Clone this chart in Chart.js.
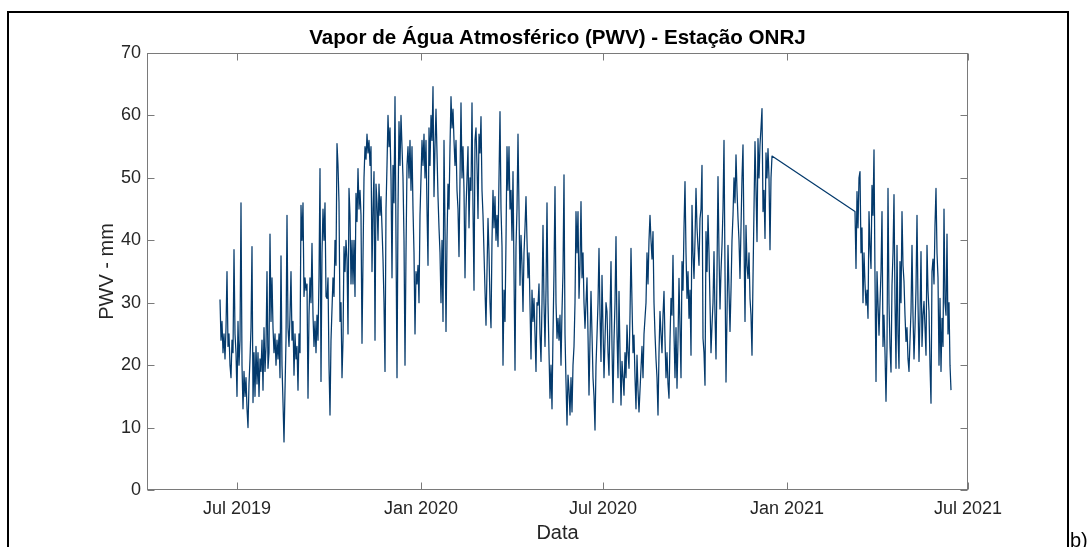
<!DOCTYPE html>
<html>
<head>
<meta charset="utf-8">
<script src="https://cdn.jsdelivr.net/npm/chart.js@4.4.0/dist/chart.umd.min.js"></script>
<style>
  html, body { margin: 0; padding: 0; background: #fff; }
  #wrap { position: relative; width: 1092px; height: 547px; overflow: hidden; }
  #frame { position: absolute; left: 7px; top: 11px; width: 1062px; height: 600px;
           border: 2px solid #000; box-sizing: border-box; pointer-events: none; }
  #panel { position: absolute; left: 1070px; top: 529px; font: 20px Arial, "Liberation Sans", sans-serif; color: #000; }
</style>
</head>
<body>
<div id="wrap">
  <canvas id="pwv-chart"></canvas>
  <div id="frame"></div>
  <div id="panel">b)</div>
</div>
<script>
// x axis in days, day 0 = 1 Jul 2019
const tickDays = [0, 184, 366, 550, 731];
const tickLabels = ['Jul 2019', 'Jan 2020', 'Jul 2020', 'Jan 2021', 'Jul 2021'];

// daily PWV (mm)
const start2019 = '2019-06-14';
const pwv2019 = [
  30.5, 24, 27, 22, 25, 21, 26, 35, 23, 25,
  20, 18, 24, 22, 38.5, 25, 22, 15, 27, 20,
  24, 46, 20, 13, 19, 15, 18, 13, 10, 17,
  21, 26, 39, 14, 22, 15, 23, 17, 22, 15,
  21, 19, 24, 16, 26, 19, 23, 35, 19.5, 22,
  41, 27, 34, 26, 22, 25, 20, 24, 21, 25,
  18, 37.5, 20, 14, 7.7, 16, 24, 44, 26, 23,
  28, 35, 24, 27, 18.4, 25, 21, 23, 16, 25,
  22, 45.6, 40, 46, 31, 34, 32, 33, 14.7, 28,
  34, 30, 39.5, 28, 23, 27, 22, 28, 24, 34,
  51.5, 17.4, 38, 45, 40, 46, 31, 30.7, 34, 20,
  12, 24, 29, 34, 31, 40, 36, 55.5, 52, 46,
  27, 30, 18, 24, 39, 35, 40, 37, 25, 48.3,
  44, 33, 40, 33, 40, 31, 47.5, 43, 51.5, 45,
  48, 44, 23.5, 37, 50, 55, 53, 57, 54, 56,
  52, 55, 35, 45, 51, 24, 49, 46, 40, 49,
  44, 47, 42, 37, 30, 19, 45, 52, 60, 55,
  58, 50, 34, 52, 46, 63, 40, 18, 45, 59,
  52, 60, 55, 50, 40, 20, 38, 52, 55, 50,
  56, 48, 55, 45, 38, 25, 35, 33, 36, 30,
  44
];

const start2020a = '2020-01-01';
const pwv2020a = [
  50, 56, 52, 57, 50, 56, 45, 36, 58, 52,
  60, 56, 64.6, 47, 55, 61, 54, 47, 42, 38,
  30, 40, 27, 56, 42, 25.4, 40, 49, 45, 55,
  63, 58, 61, 56, 52, 56, 48, 45, 37.4, 50,
  62, 50, 55, 48, 34, 45, 50, 55, 42, 50,
  48, 62, 45, 32, 56, 58, 52, 43.5, 57, 54,
  59.8, 48, 44, 38, 32, 26.4, 35, 43.5, 38, 30,
  26, 40, 48, 42, 47, 40, 44, 39, 50, 60.6,
  45, 39, 20, 32, 27, 40, 55, 48, 55, 45,
  48, 40, 51, 35, 19.2, 39, 45, 57, 45, 32.8,
  40.8, 36, 28.6, 38, 42, 47, 40, 34, 38, 29.6,
  21, 32, 27, 30.7, 25, 19, 30, 29.6, 33, 25,
  20.6, 30, 42.4, 30, 23, 32, 46, 30, 22, 14.7,
  20, 13, 25, 35, 48.6, 30, 24.3, 27.5, 24, 28,
  20, 28.6, 35, 50.5, 25, 17.3, 10.4, 18.4, 16, 12,
  18, 12.5, 20, 23, 30, 44.6, 38, 44.6, 30.7, 36,
  46.2, 34, 38, 30, 25.9, 30, 34, 25, 15.2, 24,
  31.8, 25, 18, 15, 9.6, 20, 24.8, 30, 38.7, 28,
  20.6, 34.4
];

const start2020b = '2020-07-01';
const pwv2020b = [
  26, 18, 24, 30, 28.6, 22, 18.4, 28, 36.6, 23,
  14, 24, 30, 40.6, 25, 18, 31.8, 22, 13.6, 20.6,
  18, 15.2, 22, 18, 26.4, 22, 19.5, 28, 38.7, 30,
  22, 24.8, 18, 13, 21.6, 16, 12.5, 16, 19.5, 23,
  18, 25, 27.5, 30, 38, 33, 40, 44, 40, 37,
  41.4, 30, 25, 21, 18, 12, 22, 28.6, 25, 22,
  28, 31.8, 24, 18, 22, 17, 14.7, 24, 30.7, 28,
  37.6, 25, 18, 26, 16.3, 24, 33.9, 26, 18, 36.6,
  32, 42, 49.4, 38, 30.7, 35, 27.5, 32, 21.6, 45.6,
  38, 33.9, 40, 48.3, 42, 39, 36, 43.5, 45, 52,
  24.3, 22, 16.8, 41.4, 35, 44, 38, 30, 22, 26.4,
  30, 38.2, 28, 21, 35, 50.2, 38, 29, 35, 39.2,
  45, 56, 35, 17.3, 28, 39.2, 32, 25.4, 32, 40,
  44, 50, 46, 53.7, 48, 43.5, 40, 33.9, 42, 50,
  55.3, 40, 27, 42.4, 36, 33.9, 38, 30.7, 28, 21.6,
  33.9, 45, 55.8, 48, 39.8, 56.3, 50, 55.3, 58, 61.1,
  44.6, 48, 40.3, 54, 50, 54.7, 50, 38.5, 50, 53.5
];

const start2021 = '2021-03-10';
const pwv2021 = [
  44.6, 35.5, 47.8, 42, 50, 51, 38, 42, 30, 38,
  33, 29.6, 32, 27.5, 44.6, 39, 35.5, 48.8, 44, 54.5,
  33.9, 17.4, 35, 30, 24.8, 30, 35, 44.6, 23, 28,
  22, 14.2, 23, 48.3, 30, 23, 18.9, 32.8, 38, 47.3,
  30, 19.5, 39.2, 25, 19.5, 36.6, 30, 44.6, 36, 33.4,
  28, 23.8, 26, 21, 19, 24, 28.6, 39.2, 28, 21,
  26, 32.3, 44, 30, 20.6, 28, 38.2, 23, 28, 30.2,
  26, 21.6, 39.2, 32, 28.6, 20, 13.9, 35, 37, 33,
  42.4, 48.3, 38, 34, 20, 30.7, 19, 27.5, 23, 45,
  30, 28, 41, 25, 30, 20, 16
];

const origin = Date.UTC(2019, 6, 1);
const dayOf = s => Math.round((Date.parse(s + 'T00:00:00Z') - origin) / 86400000);

const points = [];
[[start2019, pwv2019], [start2020a, pwv2020a], [start2020b, pwv2020b], [start2021, pwv2021]]
  .forEach(([start, vals]) => {
    const d0 = dayOf(start);
    vals.forEach((v, i) => points.push({ x: d0 + i, y: v }));
  });

const axisColor = '#7a7a7a';
const textColor = '#262626';

// MATLAB style box with inward ticks on all four sides
const boxPlugin = {
  id: 'matlabBox',
  afterDraw(chart) {
    const { ctx, chartArea: a, scales: { x, y } } = chart;
    const L = Math.round(a.left) + 0.5, R = Math.round(a.right) - 0.5;
    const T = Math.round(a.top) + 0.5, B = Math.round(a.bottom) - 0.5;
    const len = 7;
    ctx.save();
    ctx.strokeStyle = axisColor;
    ctx.lineWidth = 1;
    ctx.strokeRect(L, T, R - L, B - T);
    ctx.beginPath();
    y.ticks.forEach(t => {
      const py = Math.round(y.getPixelForValue(t.value)) + 0.5;
      ctx.moveTo(L, py); ctx.lineTo(L + len, py);
      ctx.moveTo(R, py); ctx.lineTo(R - len, py);
    });
    tickDays.forEach(d => {
      const px = Math.round(x.getPixelForValue(d)) + 0.5;
      ctx.moveTo(px, B); ctx.lineTo(px, B - len);
      ctx.moveTo(px, T); ctx.lineTo(px, T + len);
    });
    ctx.stroke();
    ctx.restore();
  }
};

Chart.defaults.font.family = 'Arial, "Liberation Sans", Helvetica, sans-serif';

new Chart(document.getElementById('pwv-chart'), {
  type: 'line',
  data: {
    datasets: [{
      label: 'PWV',
      data: points,
      borderColor: 'rgb(4, 58, 108)',
      borderWidth: 1.25,
      borderJoinStyle: 'round',
      pointRadius: 0,
      tension: 0,
      fill: false
    }]
  },
  options: {
    responsive: true,
    maintainAspectRatio: false,
    animation: false,
    layout: { padding: { left: 0, right: 124, top: 0, bottom: 0 } },
    plugins: {
      legend: { display: false },
      tooltip: { enabled: false },
      title: {
        display: true,
        fullSize: false,
        text: 'Vapor de Água Atmosférico (PWV) - Estação ONRJ',
        color: '#000',
        font: { size: 20.6, weight: 'bold' },
        padding: { top: 26, bottom: 2.3 }
      }
    },
    scales: {
      x: {
        type: 'linear',
        min: -90,
        max: 731,
        grid: { display: false, drawTicks: false },
        border: { display: false },
        afterBuildTicks: s => { s.ticks = tickDays.map(v => ({ value: v })); },
        afterFit: s => { s.height = 57; s.paddingLeft = 0; s.paddingRight = 0; },
        ticks: {
          autoSkip: false,
          maxRotation: 0,
          padding: 8,
          color: textColor,
          font: { size: 18 },
          callback: v => tickLabels[tickDays.indexOf(v)]
        },
        title: { display: true, text: 'Data', color: textColor, font: { size: 20 }, padding: { top: 0, bottom: 1.5 } }
      },
      y: {
        min: 0,
        max: 70,
        grid: { display: false, drawTicks: false },
        border: { display: false },
        afterFit: s => { s.width = 147; s.paddingTop = 0; s.paddingBottom = 0; },
        ticks: { stepSize: 10, padding: 6, color: textColor, font: { size: 18 } },
        title: { display: true, text: 'PWV - mm', color: textColor, font: { size: 20 }, padding: { top: 95, bottom: 0 } }
      }
    }
  },
  plugins: [boxPlugin]
});
</script>
</body>
</html>
